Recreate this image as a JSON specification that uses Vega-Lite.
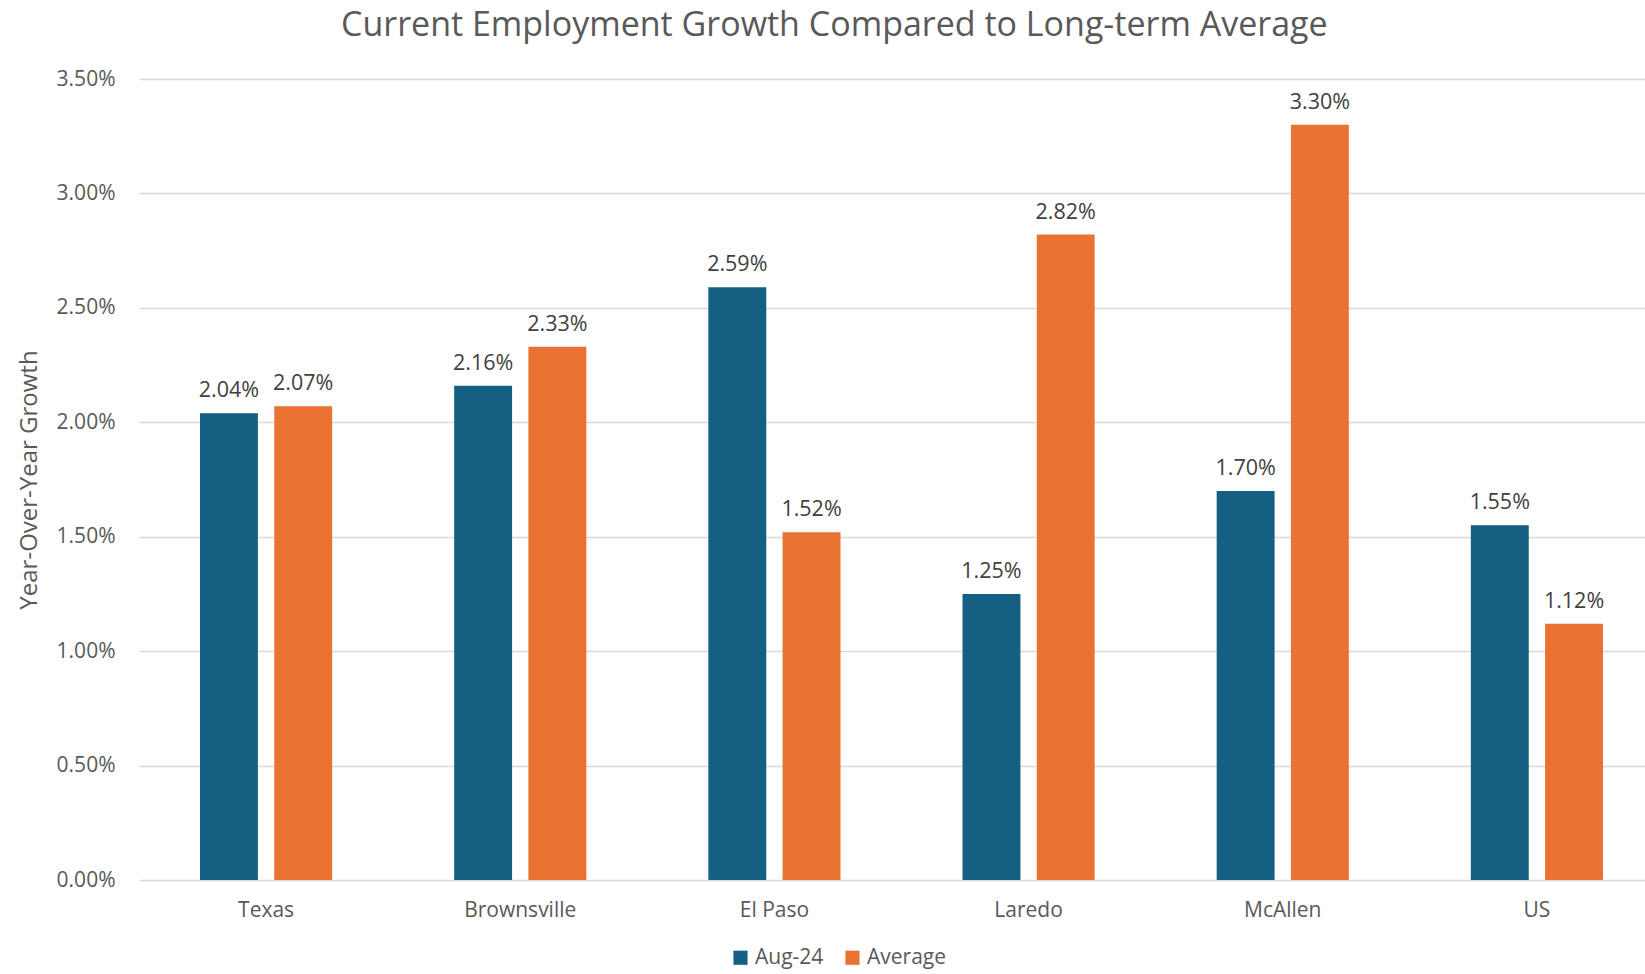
{
  "$schema": "https://vega.github.io/schema/vega-lite/v6.json",
  "width": 1525,
  "height": 801,
  "autosize": {"type": "none"},
  "padding": {"left": 139, "top": 79, "right": 0, "bottom": 94},
  "background": "white",
  "config": {
    "view": {"stroke": null},
    "font": "Open Sans"
  },
  "title": {
    "text": "Current Employment Growth Compared to Long-term Average",
    "fontSize": 34,
    "fontWeight": "normal",
    "color": "#595959",
    "anchor": "start",
    "frame": "group",
    "dx": 202,
    "offset": 25
  },
  "data": {
    "values": [
      {"region": "Texas", "series": "Aug-24", "value": 0.0204},
      {"region": "Texas", "series": "Average", "value": 0.0207},
      {"region": "Brownsville", "series": "Aug-24", "value": 0.0216},
      {"region": "Brownsville", "series": "Average", "value": 0.0233},
      {"region": "El Paso", "series": "Aug-24", "value": 0.0259},
      {"region": "El Paso", "series": "Average", "value": 0.0152},
      {"region": "Laredo", "series": "Aug-24", "value": 0.0125},
      {"region": "Laredo", "series": "Average", "value": 0.0282},
      {"region": "McAllen", "series": "Aug-24", "value": 0.0170},
      {"region": "McAllen", "series": "Average", "value": 0.0330},
      {"region": "US", "series": "Aug-24", "value": 0.0155},
      {"region": "US", "series": "Average", "value": 0.0112}
    ]
  },
  "encoding": {
    "x": {
      "field": "region",
      "type": "nominal",
      "sort": null,
      "scale": {"paddingInner": 0.48, "paddingOuter": 0.24},
      "axis": {
        "title": null,
        "labelAngle": 0,
        "labelFontSize": 21,
        "labelColor": "#595959",
        "labelPadding": 19,
        "ticks": false,
        "domain": false
      }
    },
    "xOffset": {
      "field": "series",
      "type": "nominal",
      "scale": {"paddingInner": 0.22}
    },
    "y": {
      "field": "value",
      "type": "quantitative",
      "scale": {"domain": [0, 0.035], "nice": false},
      "axis": {
        "title": "Year-Over-Year Growth",
        "titleFontSize": 24,
        "titleFontWeight": "normal",
        "titleColor": "#595959",
        "titlePadding": 15,
        "format": ".2%",
        "values": [0, 0.005, 0.01, 0.015, 0.02, 0.025, 0.03, 0.035],
        "labelFontSize": 21,
        "labelColor": "#595959",
        "labelPadding": 24,
        "ticks": false,
        "domain": false,
        "gridColor": "#d9d9d9",
        "gridWidth": 1.5
      }
    },
    "color": {
      "field": "series",
      "type": "nominal",
      "scale": {"domain": ["Aug-24", "Average"], "range": ["#156082", "#E97132"]},
      "legend": {
        "title": null,
        "orient": "none",
        "direction": "horizontal",
        "legendX": 591,
        "legendY": 868,
        "symbolType": "square",
        "symbolSize": 200,
        "labelFontSize": 21,
        "labelColor": "#595959",
        "columnPadding": 18,
        "symbolStrokeWidth": 0
      }
    }
  },
  "layer": [
    {"mark": {"type": "bar"}},
    {
      "mark": {"type": "text", "baseline": "bottom", "dy": -11, "fontSize": 21.5, "color": "#404040"},
      "encoding": {
        "text": {"field": "value", "type": "quantitative", "format": ".2%"},
        "color": {"value": "#404040"}
      }
    }
  ]
}
